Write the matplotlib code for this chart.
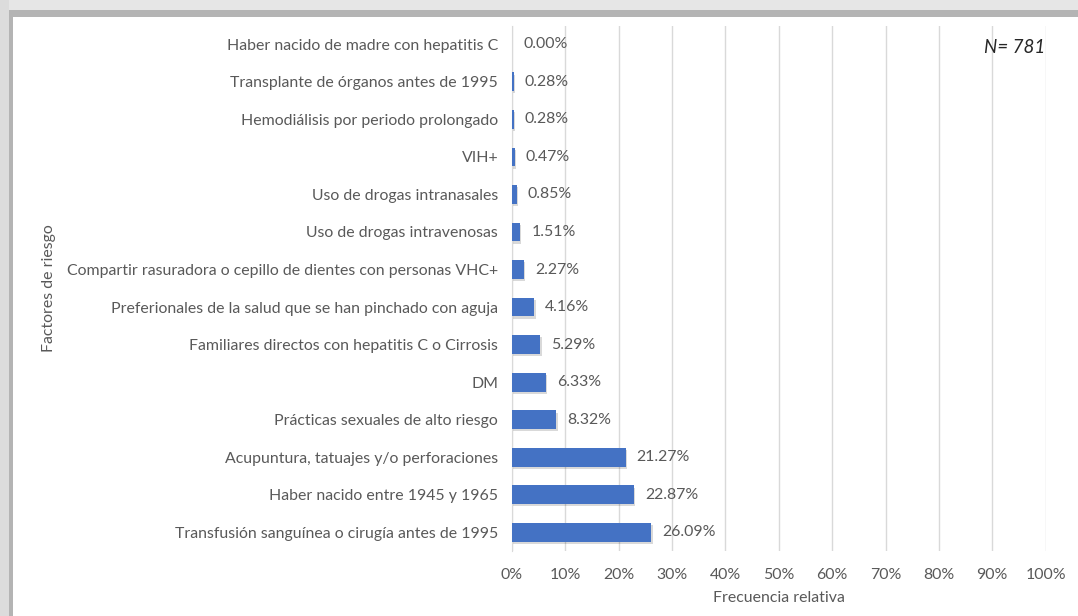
import numpy as np
import matplotlib
matplotlib.use("Agg")
import matplotlib.pyplot as plt
from matplotlib.patches import Rectangle

plt.rcParams['font.family'] = ['Lato', 'DejaVu Sans']

factores = [
    "Transfusión sanguínea o cirugía antes de 1995",
    "Haber nacido entre 1945 y 1965",
    "Acupuntura, tatuajes y/o perforaciones",
    "Prácticas sexuales de alto riesgo",
    "DM",
    "Familiares directos con hepatitis C o Cirrosis",
    "Preferionales de la salud que se han pinchado con aguja",
    "Compartir rasuradora o cepillo de dientes con personas VHC+",
    "Uso de drogas intravenosas",
    "Uso de drogas intranasales",
    "VIH+",
    "Hemodiálisis por periodo prolongado",
    "Transplante de órganos antes de 1995",
    "Haber nacido de madre con hepatitis C",
]
porcentajes = [26.09, 22.87, 21.27, 8.32, 6.33, 5.29, 4.16, 2.27, 1.51, 0.85, 0.47, 0.28, 0.28, 0.00]
xticks = [0, 10, 20, 30, 40, 50, 60, 70, 80, 90, 100]

txt = '#595959'
fs = 11.4
fig = plt.figure(figsize=(10.78, 6.16), dpi=100)

# frame border (shadow on top / left)
fig.patches.append(Rectangle((0, 0.9838), 1, 0.0162, transform=fig.transFigure,
                             facecolor='#e6e6e6', edgecolor='none', zorder=0))
fig.patches.append(Rectangle((0.008, 0.9724), 0.992, 0.0114, transform=fig.transFigure,
                             facecolor='#b4b4b4', edgecolor='none', zorder=0))
fig.patches.append(Rectangle((0, 0), 0.008, 1, transform=fig.transFigure,
                             facecolor='#dcdcdc', edgecolor='none', zorder=0))
fig.patches.append(Rectangle((0.008, 0), 0.004, 0.9838, transform=fig.transFigure,
                             facecolor='#b4b4b4', edgecolor='none', zorder=0))

ax = fig.add_axes([0.475, 0.1055, 0.495, 0.853])
y = np.arange(len(factores))
# soft shadow under bars
ax.barh(y - 0.06, porcentajes, height=0.5, left=0.25, color='#000000', alpha=0.15,
        linewidth=0, zorder=2)
ax.barh(y, porcentajes, height=0.5, color='#4472C4', linewidth=0, zorder=3)

for yi, v in zip(y, porcentajes):
    ax.annotate(f"{v:.2f}%", xy=(v, yi), xytext=(8, 0), textcoords='offset points',
                va='center', ha='left', fontsize=fs, color=txt)

ax.set_xlim(0, 100)
ax.set_ylim(-0.5, len(factores) - 0.5)
ax.set_xticks(xticks)
ax.set_xticklabels([f"{t}%" for t in xticks], fontsize=fs, color=txt)
ax.set_yticks(y)
ax.set_yticklabels(factores, fontsize=fs, color=txt)
ax.tick_params(length=0, pad=10)
ax.tick_params(axis='x', pad=12)
ax.grid(axis='x', color='#d9d9d9', linewidth=1, zorder=0)
ax.set_axisbelow(True)
for s in ['top', 'right', 'bottom']:
    ax.spines[s].set_visible(False)
ax.spines['left'].set_color('#d9d9d9')

ax.set_xlabel("Frecuencia relativa", fontsize=fs, color=txt, labelpad=7)
fig.text(0.045, 0.532, "Factores de riesgo", rotation=90, fontsize=fs,
         color=txt, ha='center', va='center')
ax.text(1.0, 0.975, "N= 781", transform=ax.transAxes, ha='right', va='top',
        fontsize=13.5, fontstyle='italic', color='#262626')

fig.savefig("out.png", dpi=100)
